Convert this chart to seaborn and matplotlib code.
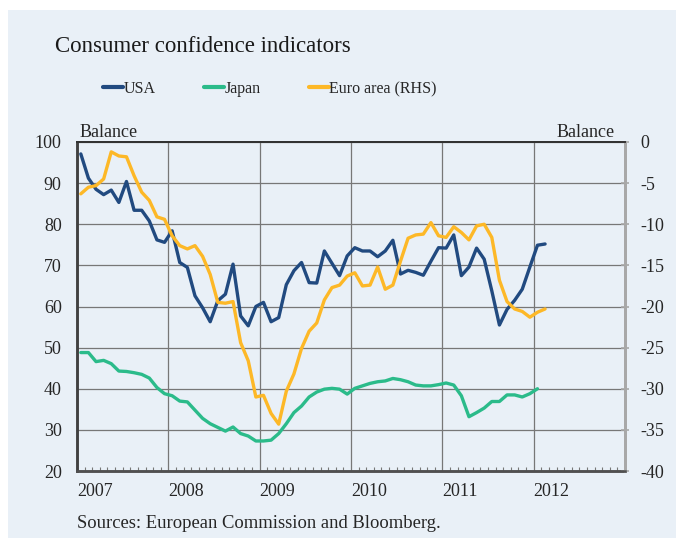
import numpy as np
import pandas as pd
import matplotlib
matplotlib.use("Agg")
import matplotlib.pyplot as plt
from matplotlib.patches import Rectangle
from matplotlib.lines import Line2D
from matplotlib.ticker import FixedLocator
import seaborn as sns

# ---------------- data (monthly, from Jan 2007) ----------------
usa = [97.1, 91.2, 88.5, 87.2, 88.3, 85.3, 90.4, 83.4, 83.4, 80.8, 76.2, 75.6,
       78.4, 70.7, 69.5, 62.6, 59.7, 56.3, 61.4, 63.0, 70.3, 57.7, 55.3, 60.0,
       61.0, 56.3, 57.3, 65.3, 68.7, 70.7, 65.8, 65.7, 73.5, 70.5, 67.5, 72.3,
       74.3, 73.5, 73.5, 72.1, 73.5, 76.1, 67.9, 68.8, 68.3, 67.6, 71.0, 74.3,
       74.2, 77.4, 67.5, 69.6, 74.2, 71.5, 63.8, 55.5, 59.3, 61.5, 64.2, 69.6,
       74.9, 75.2]
japan = [48.8, 48.8, 46.6, 46.9, 46.1, 44.3, 44.2, 43.9, 43.5, 42.6, 40.3, 38.8,
         38.3, 37.0, 36.8, 34.8, 32.8, 31.5, 30.6, 29.7, 30.7, 29.1, 28.5, 27.3,
         27.3, 27.5, 29.1, 31.5, 34.2, 35.8, 38.0, 39.2, 39.9, 40.1, 39.9, 38.7,
         40.1, 40.7, 41.3, 41.7, 41.9, 42.5, 42.2, 41.7, 40.9, 40.7, 40.7, 41.0,
         41.4, 40.9, 38.3, 33.2, 34.2, 35.3, 36.9, 36.9, 38.5, 38.5, 38.0, 38.8,
         40.0]
euro = [-6.3, -5.5, -5.3, -4.5, -1.2, -1.7, -1.8, -4.1, -6.1, -7.1, -9.1, -9.4,
        -11.4, -12.6, -13.0, -12.6, -13.9, -16.1, -19.5, -19.6, -19.4, -24.4, -26.6, -31.0,
        -30.8, -33.0, -34.3, -30.3, -28.2, -25.1, -23.0, -22.0, -19.2, -17.7, -17.4, -16.3,
        -15.9, -17.5, -17.4, -15.2, -17.9, -17.4, -14.5, -11.7, -11.3, -11.2, -9.8, -11.4,
        -11.6, -10.3, -11.0, -11.9, -10.2, -10.0, -11.6, -16.8, -19.4, -20.3, -20.6, -21.3,
        -20.7, -20.3]

series_names = ["USA", "Japan", "Euro area (RHS)"]
year_labels = ["2007", "2008", "2009", "2010", "2011", "2012"]
left_ticks = [20, 30, 40, 50, 60, 70, 80, 90, 100]
right_ticks = [-40, -35, -30, -25, -20, -15, -10, -5, 0]


def month_axis(n):
    d = pd.date_range("2007-01-01", periods=n, freq="MS")
    return d.year + (d.month - 0.5) / 12.0


df_usa = pd.DataFrame({"x": month_axis(len(usa)), "y": usa})
df_jp = pd.DataFrame({"x": month_axis(len(japan)), "y": japan})
df_eu = pd.DataFrame({"x": month_axis(len(euro)), "y": euro})

# ---------------- style ----------------
BG = "#E9F0F7"
C_USA = "#214A80"
C_JP = "#2BBB8A"
C_EU = "#FDB827"
TXT = "#262626"
GRID = "#777777"

sns.set_style("white")
plt.rcParams["font.family"] = ["Liberation Serif", "DejaVu Serif"]

fig = plt.figure(figsize=(6.76, 5.38), dpi=100, facecolor="white")
fig.patches.append(Rectangle((8 / 676, 0), 1, 1 - 10 / 538, transform=fig.transFigure,
                             facecolor=BG, edgecolor="none", zorder=-10))

ax = fig.add_axes([77 / 676, 1 - 471 / 538, (625 - 77) / 676, (471 - 142) / 538])
ax.set_facecolor(BG)
ax2 = ax.twinx()
ax2.patch.set_visible(False)

lw = 2.4
sns.lineplot(data=df_usa, x="x", y="y", ax=ax, color=C_USA, linewidth=lw, zorder=3)
sns.lineplot(data=df_jp, x="x", y="y", ax=ax, color=C_JP, linewidth=lw, zorder=3)
sns.lineplot(data=df_eu, x="x", y="y", ax=ax2, color=C_EU, linewidth=lw, zorder=3)

ax.set_xlim(2007, 2013)
ax.set_ylim(20, 100)
ax2.set_ylim(-40, 0)
for a in (ax, ax2):
    a.set_xlabel("")
    a.set_ylabel("")

# grid and ticks
years = [2007, 2008, 2009, 2010, 2011, 2012]
ax.set_xticks(years)
ax.set_xticklabels(year_labels, ha="left", fontsize=13, color=TXT)
ax.xaxis.set_minor_locator(FixedLocator([2007 + m / 12 for m in range(1, 72) if m % 12 != 0]))
ax.tick_params(axis="x", which="major", length=0, pad=9)
ax.tick_params(axis="x", which="minor", direction="in", length=3.2, width=0.8, color="#777777", bottom=True)
ax.set_yticks(left_ticks)
ax.set_yticklabels([str(v) for v in left_ticks], fontsize=13, color=TXT)
ax.tick_params(axis="y", length=0, pad=11)
ax.grid(True, which="major", axis="both", color=GRID, linewidth=0.9, zorder=1)
ax.set_axisbelow(True)

ax2.set_yticks(right_ticks)
ax2.set_yticklabels([str(v) for v in right_ticks], fontsize=13, color=TXT)
ax2.tick_params(axis="y", direction="inout", length=6, width=1.2, color="#A8A8A8", pad=8)

# spines
for a in (ax, ax2):
    a.spines["left"].set_color("#404040")
    a.spines["left"].set_linewidth(1.8)
    a.spines["bottom"].set_color("#505050")
    a.spines["bottom"].set_linewidth(1.8)
    a.spines["top"].set_color("#333333")
    a.spines["top"].set_linewidth(1.4)
    a.spines["right"].set_color("#A8A8A8")
    a.spines["right"].set_linewidth(2.0)

# texts
fig.text(55 / 676, 1 - 52 / 538, "Consumer confidence indicators", fontsize=16.5,
         color="#1A1A1A", va="baseline", ha="left")
fig.text(80 / 676, 1 - 137 / 538, "Balance", fontsize=13, color=TXT, va="baseline", ha="left")
fig.text(615 / 676, 1 - 137 / 538, "Balance", fontsize=13, color=TXT, va="baseline", ha="right")
fig.text(77 / 676, 1 - 528 / 538, "Sources: European Commission and Bloomberg.", fontsize=13.4,
         color=TXT, va="baseline", ha="left")

handles = [Line2D([], [], color=c, linewidth=3) for c in (C_USA, C_JP, C_EU)]
fig.legend(handles, series_names, loc="center", bbox_to_anchor=(270 / 676, 1 - 89 / 538),
           ncol=3, frameon=False, fontsize=11.5, handlelength=1.25, handletextpad=0.05,
           columnspacing=3.0, labelcolor=TXT)

fig.savefig("out.png", dpi=100, facecolor="white")
